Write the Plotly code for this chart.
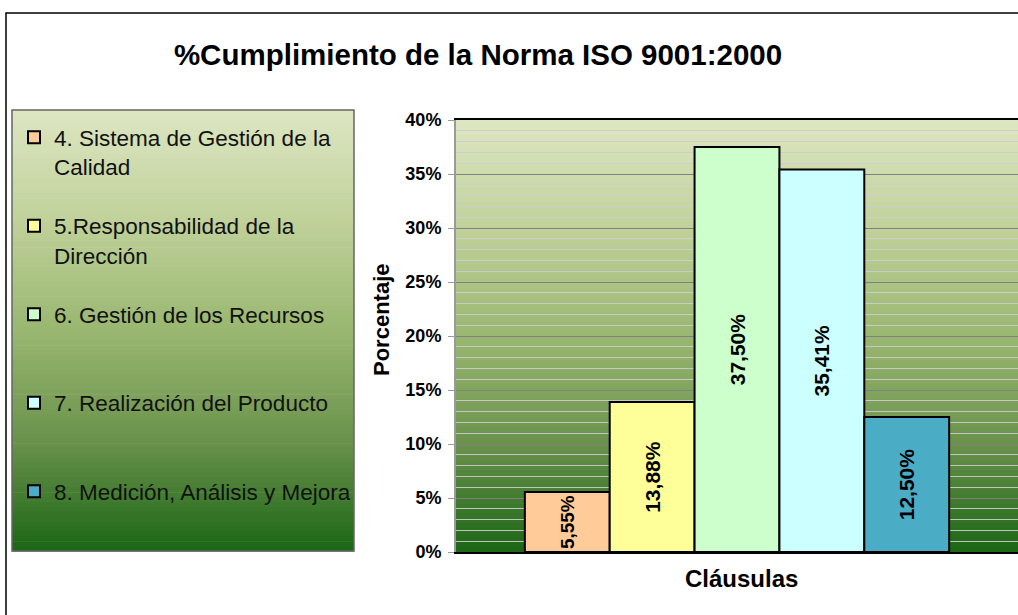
import plotly.graph_objects as go

# ---- data ----
categories = ["4. Sistema de Gestión de la<br>Calidad",
              "5.Responsabilidad de la<br>Dirección",
              "6. Gestión de los Recursos<br> ",
              "7. Realización del Producto<br> ",
              "8. Medición, Análisis y Mejora<br> "]
values = [5.55, 13.88, 37.50, 35.41, 12.50]
colors = ["#FFCC99", "#FFFF99", "#CCFFCC", "#CCFFFF", "#4BACC6"]
y_ticks = [0, 5, 10, 15, 20, 25, 30, 35, 40]
y_tick_text = ["0%", "5%", "10%", "15%", "20%", "25%", "30%", "35%", "40%"]
x_label = "Cláusulas"
y_label = "Porcentaje"
title_text = "%Cumplimiento de la Norma ISO 9001:2000"

W, H = 1018, 615
L, R, T, B = 456, 0, 120, 63
PW, PH = W - L - R, H - T - B
FONT = "Arial, Liberation Sans, sans-serif"


def px_x(x):
    return (x - L) / PW


def px_y(y):
    return (H - B - y) / PH


fig = go.Figure()
for i, (name, v, c) in enumerate(zip(categories, values, colors)):
    fig.add_trace(go.Bar(
        x=[x_label], y=[v], name=name, legendgroup=f"g{i}",
        marker=dict(color=c, line=dict(color="black", width=2)),
        texttemplate="%{y:.2f}%", textposition="inside", insidetextanchor="middle",
        textangle=-90, textfont=dict(family=FONT, size=21, color="black", weight="bold"),
        hoverinfo="skip",
    ))

# gradient helper
stops = [(0.0, (221, 230, 194)), (0.25, (192, 209, 154)), (0.5, (153, 183, 112)),
         (0.75, (106, 146, 76)), (1.0, (28, 102, 22))]


def grad(t):
    for (t0, c0), (t1, c1) in zip(stops[:-1], stops[1:]):
        if t0 <= t <= t1:
            f = (t - t0) / (t1 - t0)
            return "rgb(%d,%d,%d)" % tuple(round(a + (b - a) * f) for a, b in zip(c0, c1))
    return "rgb(%d,%d,%d)" % stops[-1][1]


shapes = []
N = 90
for k in range(N):
    t = (k + 0.5) / N
    # plot area gradient (top -> bottom)
    shapes.append(dict(type="rect", xref="x domain", yref="y domain", layer="below",
                       x0=0, x1=1, y0=1 - (k + 1) / N - 0.002, y1=1 - k / N,
                       fillcolor=grad(t), line=dict(width=0)))
    # legend box gradient
    ly0, ly1 = 110, 551
    ya = ly0 + (ly1 - ly0) * k / N
    yb = ly0 + (ly1 - ly0) * (k + 1) / N + 0.6
    shapes.append(dict(type="rect", xref="paper", yref="paper", layer="below",
                       x0=px_x(12), x1=px_x(354), y0=px_y(yb), y1=px_y(ya),
                       fillcolor=grad(t), line=dict(width=0)))

# legend border
shapes.append(dict(type="rect", xref="paper", yref="paper", layer="above",
                   x0=px_x(12), x1=px_x(354), y0=px_y(551), y1=px_y(110),
                   fillcolor="rgba(0,0,0,0)", line=dict(color="#666666", width=1.5)))
# outer chart border
shapes.append(dict(type="rect", xref="paper", yref="paper", layer="above",
                   x0=px_x(6), x1=px_x(1030), y0=px_y(630), y1=px_y(13),
                   fillcolor="rgba(0,0,0,0)", line=dict(color="black", width=1.5)))

fig.update_layout(
    width=W, height=H,
    margin=dict(l=L, r=R, t=T, b=B),
    paper_bgcolor="white", plot_bgcolor="rgba(0,0,0,0)",
    separators=",.",
    barmode="group", bargap=0.245, bargroupgap=0,
    font=dict(family=FONT, color="black"),
    title=dict(text=title_text, x=478 / W, xanchor="center", y=1 - 55 / H, yanchor="middle",
               font=dict(family=FONT, size=29.5, weight="bold", color="black")),
    showlegend=True,
    legend=dict(x=px_x(14), xanchor="left", y=px_y(116), yanchor="top",
                bgcolor="rgba(0,0,0,0)", borderwidth=0, valign="top",
                tracegroupgap=27, font=dict(family=FONT, size=22.5, color="#111111"),
                traceorder="grouped", maxheight=600),
    shapes=shapes,
    annotations=[
        dict(text=y_label, xref="paper", yref="paper", x=px_x(381), y=px_y(320),
             textangle=-90, showarrow=False, xanchor="center", yanchor="middle",
             font=dict(family=FONT, size=22, weight="bold", color="black")),
        dict(text=x_label, xref="paper", yref="paper", x=px_x(741), y=px_y(578),
             showarrow=False, xanchor="center", yanchor="middle",
             font=dict(family=FONT, size=24, weight="bold", color="black")),
    ],
)

fig.update_xaxes(showticklabels=False, showgrid=False, showline=True, linecolor="black",
                 linewidth=2, mirror=True, ticks="", zeroline=False)
fig.update_yaxes(range=[0, 40], tickmode="array", tickvals=y_ticks, ticktext=y_tick_text,
                 showgrid=True, gridcolor="#808080", gridwidth=1,
                 minor=dict(dtick=1, showgrid=True, gridcolor="rgba(205,205,205,0.9)", gridwidth=1.2),
                 showline=True, linecolor="#9a9a9a", linewidth=2,
                 ticks="outside", ticklen=6, tickcolor="#9a9a9a", ticklabelstandoff=3,
                 zeroline=False,
                 tickfont=dict(family=FONT, size=18, weight="bold", color="black"))

fig.write_html("out.html", config={"displayModeBar": False},
               post_script="document.body.style.margin='0px';")
